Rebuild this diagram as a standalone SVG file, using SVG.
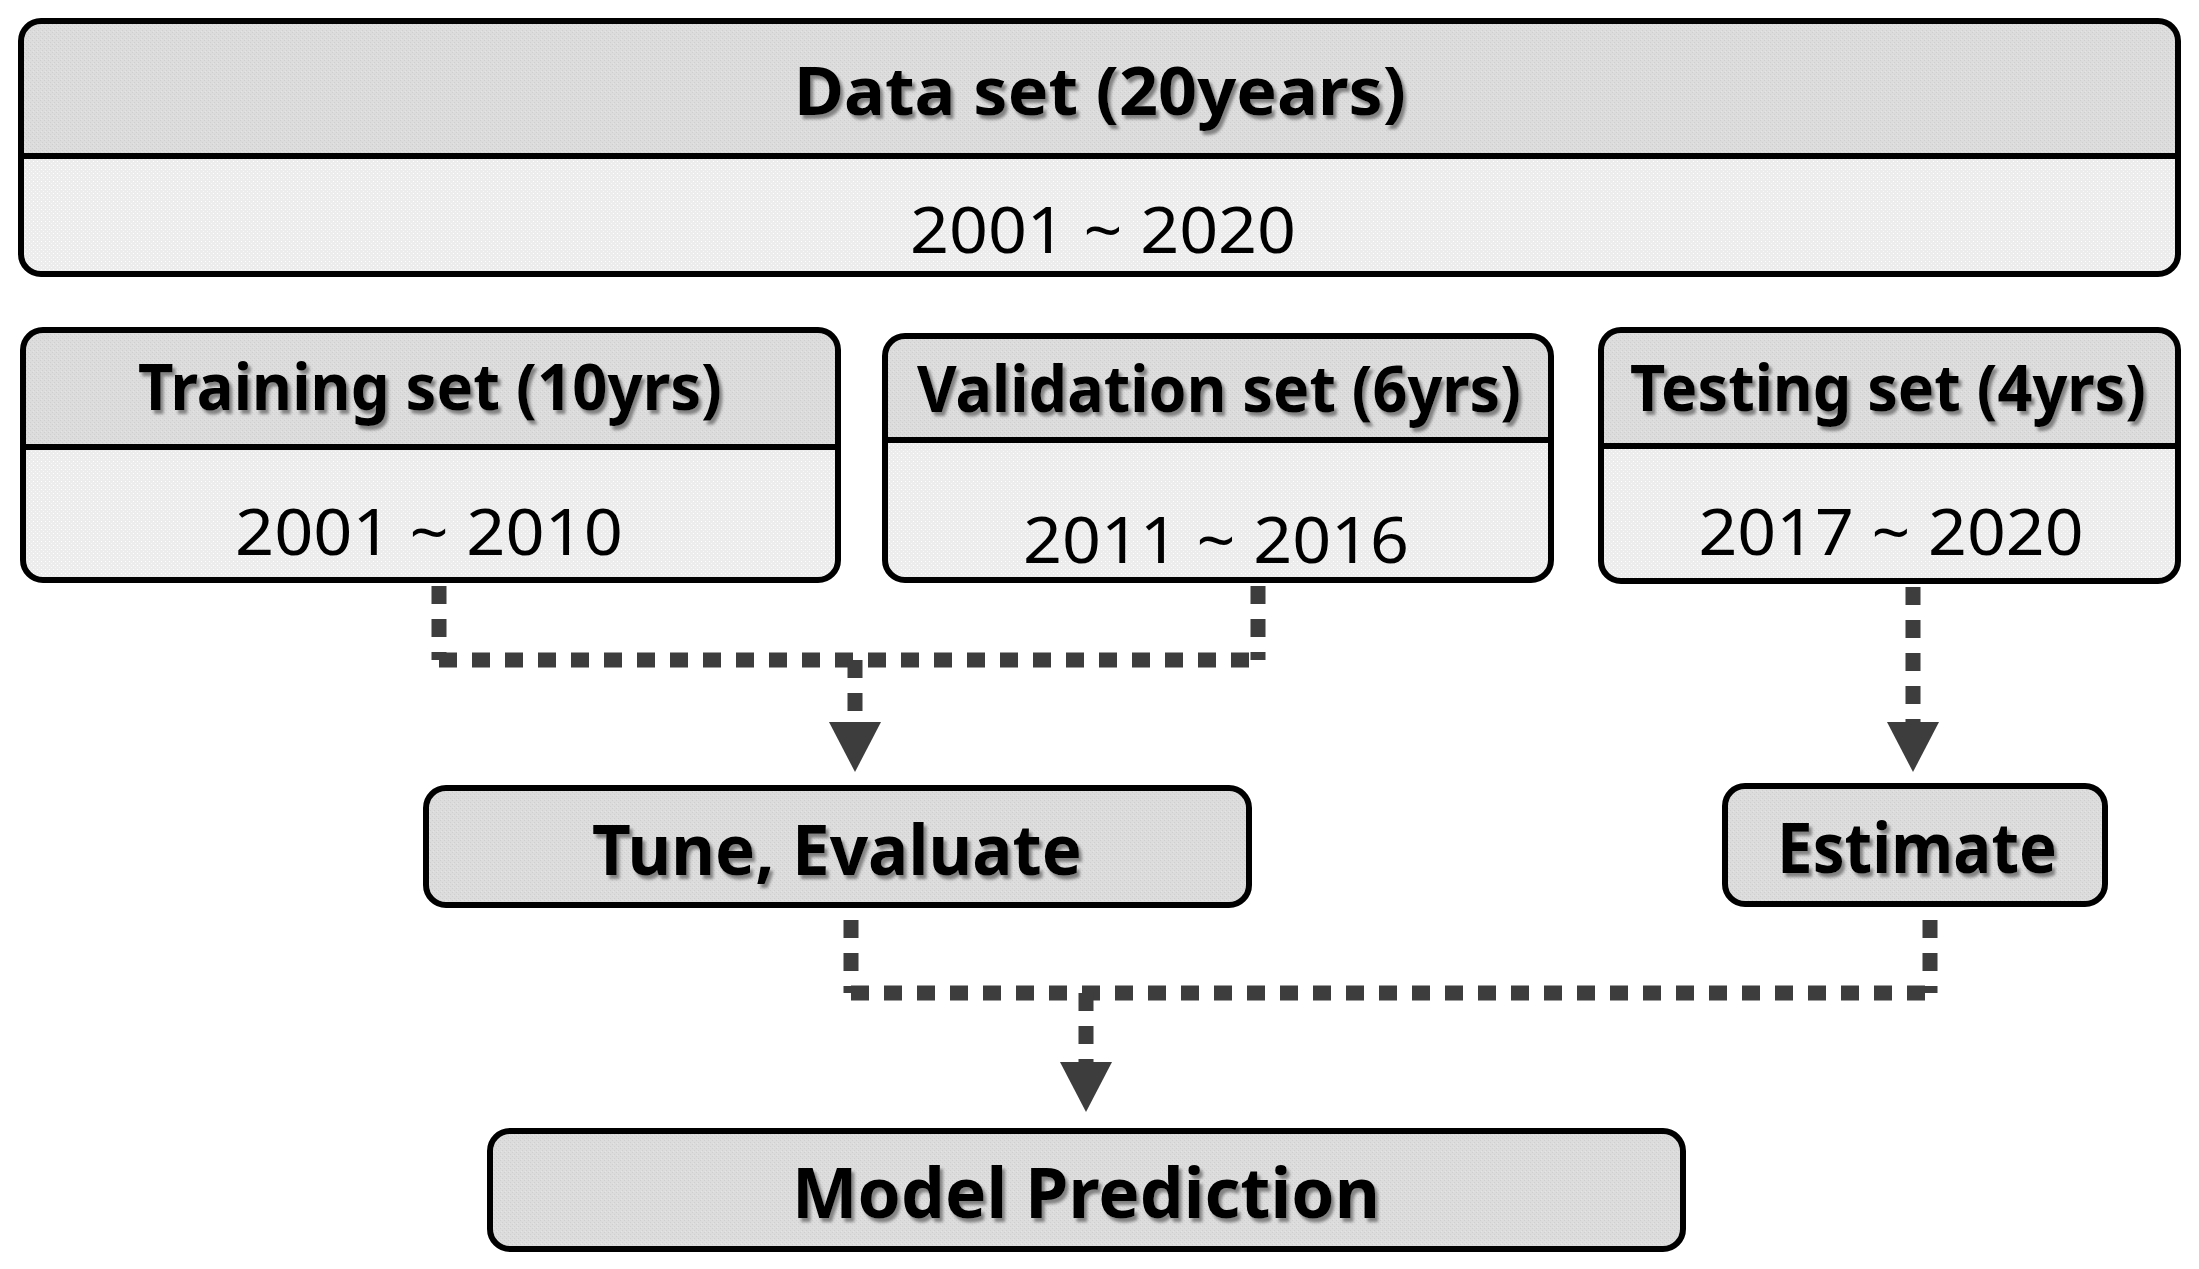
<svg xmlns="http://www.w3.org/2000/svg" width="2199" height="1269" viewBox="0 0 2199 1269">
<defs>
<pattern id="hdr" width="4" height="4" patternUnits="userSpaceOnUse">
<rect width="4" height="4" fill="#dcdcdc"/>
<rect x="0" y="0" width="1" height="1" fill="#cfcfcf"/>
<rect x="2" y="2" width="1" height="1" fill="#cfcfcf"/>
<rect x="1" y="3" width="1" height="1" fill="#e4e4e4"/>
</pattern>
<pattern id="low" width="4" height="4" patternUnits="userSpaceOnUse">
<rect width="4" height="4" fill="#ececec"/>
<rect x="1" y="1" width="1" height="1" fill="#ffffff"/>
<rect x="3" y="3" width="1" height="1" fill="#f8f8f8"/>
</pattern>
<filter id="sh" x="-5%" y="-20%" width="110%" height="150%">
<feDropShadow dx="3" dy="4" stdDeviation="1.6" flood-color="#666" flood-opacity="0.75"/>
</filter>
<marker id="ah" markerUnits="userSpaceOnUse" markerWidth="50" markerHeight="52" viewBox="0 -26 50 52" refX="0" refY="0" orient="auto">
<path d="M0,-26 L50,0 L0,26 Z" fill="#3d3d3d"/>
</marker>
<style>
.box{fill:none;stroke:#000;stroke-width:6}
.div{stroke:#000;stroke-width:6}
.hdr{fill:url(#hdr)}
.low{fill:url(#low)}
.t{font-family:"Noto Sans","Open Sans","DejaVu Sans",sans-serif;font-weight:700;fill:#000;text-anchor:middle;filter:url(#sh)}
.n{font-family:"Noto Sans","Open Sans","DejaVu Sans",sans-serif;font-weight:400;fill:#000;text-anchor:middle}
.c{fill:none;stroke:#3d3d3d;stroke-width:15;stroke-dasharray:18 15}
</style>
</defs>
<rect width="2199" height="1269" fill="#fff"/>

<g id="connectors">
<path class="c" d="M439,586 V660"/>
<path class="c" d="M1258,586 V660"/>
<path class="c" d="M439,660 H1258"/>
<path class="c" d="M855,660 V722" marker-end="url(#ah)"/>
<path class="c" d="M1913,587 V722" marker-end="url(#ah)"/>
<path class="c" d="M851,920 V993"/>
<path class="c" d="M1930,920 V993"/>
<path class="c" d="M851,993 H1930"/>
<path class="c" d="M1086,993 V1062" marker-end="url(#ah)"/>
</g>

<g id="data-set">
<rect class="low" x="21" y="21" width="2157" height="253" rx="20"/>
<path class="hdr" d="M21,156 V41 A20,20 0 0 1 41,21 H2158 A20,20 0 0 1 2178,41 V156 Z"/>
<line class="div" x1="21" y1="156" x2="2178" y2="156"/>
<rect class="box" x="21" y="21" width="2157" height="253" rx="20"/>
<text class="t" x="1100" y="115" font-size="66" textLength="612" lengthAdjust="spacingAndGlyphs">Data set (20years)</text>
<text class="n" x="1103" y="253" font-size="64" textLength="386" lengthAdjust="spacingAndGlyphs">2001 ~ 2020</text>
</g>

<g id="training-set">
<rect class="low" x="23" y="330" width="815" height="250" rx="20"/>
<path class="hdr" d="M23,447 V350 A20,20 0 0 1 43,330 H818 A20,20 0 0 1 838,350 V447 Z"/>
<line class="div" x1="23" y1="447" x2="838" y2="447"/>
<rect class="box" x="23" y="330" width="815" height="250" rx="20"/>
<text class="t" x="430" y="410" font-size="64" textLength="584" lengthAdjust="spacingAndGlyphs">Training set (10yrs)</text>
<text class="n" x="429" y="555" font-size="64" textLength="388" lengthAdjust="spacingAndGlyphs">2001 ~ 2010</text>
</g>

<g id="validation-set">
<rect class="low" x="885" y="336" width="666" height="244" rx="20"/>
<path class="hdr" d="M885,440 V356 A20,20 0 0 1 905,336 H1531 A20,20 0 0 1 1551,356 V440 Z"/>
<line class="div" x1="885" y1="440" x2="1551" y2="440"/>
<rect class="box" x="885" y="336" width="666" height="244" rx="20"/>
<text class="t" x="1219" y="412" font-size="64" textLength="604" lengthAdjust="spacingAndGlyphs">Validation set (6yrs)</text>
<text class="n" x="1216" y="563" font-size="64" textLength="386" lengthAdjust="spacingAndGlyphs">2011 ~ 2016</text>
</g>

<g id="testing-set">
<rect class="low" x="1601" y="330" width="577" height="251" rx="20"/>
<path class="hdr" d="M1601,446 V350 A20,20 0 0 1 1621,330 H2158 A20,20 0 0 1 2178,350 V446 Z"/>
<line class="div" x1="1601" y1="446" x2="2178" y2="446"/>
<rect class="box" x="1601" y="330" width="577" height="251" rx="20"/>
<text class="t" x="1888" y="411" font-size="64" textLength="516" lengthAdjust="spacingAndGlyphs">Testing set (4yrs)</text>
<text class="n" x="1891" y="555" font-size="64" textLength="385" lengthAdjust="spacingAndGlyphs">2017 ~ 2020</text>
</g>

<g id="tune-evaluate">
<rect class="hdr" x="426" y="788" width="823" height="117" rx="20"/>
<rect class="box" x="426" y="788" width="823" height="117" rx="20"/>
<text class="t" x="837" y="875" font-size="70" textLength="490" lengthAdjust="spacingAndGlyphs">Tune, Evaluate</text>
</g>

<g id="estimate">
<rect class="hdr" x="1725" y="786" width="380" height="118" rx="20"/>
<rect class="box" x="1725" y="786" width="380" height="118" rx="20"/>
<text class="t" x="1917" y="873" font-size="70" textLength="280" lengthAdjust="spacingAndGlyphs">Estimate</text>
</g>

<g id="model-prediction">
<rect class="hdr" x="490" y="1131" width="1193" height="118" rx="20"/>
<rect class="box" x="490" y="1131" width="1193" height="118" rx="20"/>
<text class="t" x="1086" y="1218" font-size="70" textLength="588" lengthAdjust="spacingAndGlyphs">Model Prediction</text>
</g>
</svg>
